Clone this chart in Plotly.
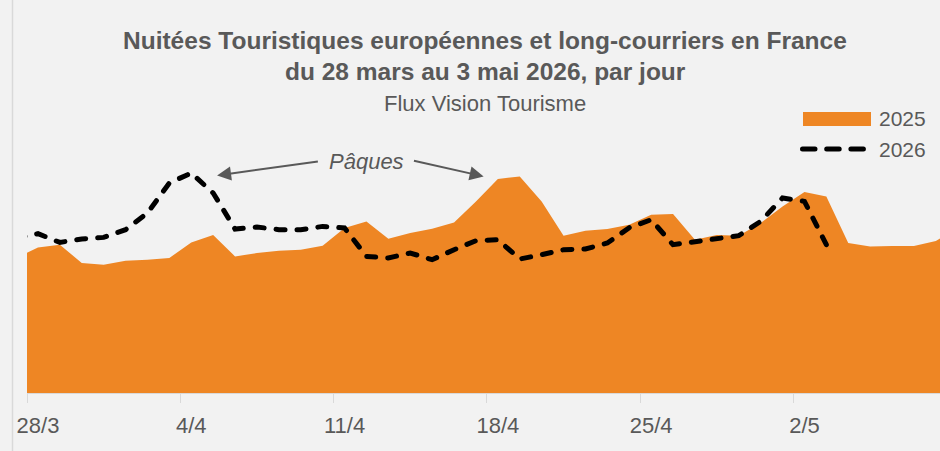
import pandas as pd
import plotly.graph_objects as go

# ---- data ----
start_date = "2026-03-27"
# 2025 nights (aligned on 2026 calendar), one value per day from 27/3
values_2025 = [1350, 1456, 1483, 1300, 1283, 1323, 1333, 1350, 1506, 1580,
               1366, 1400, 1423, 1433, 1473, 1650, 1716, 1543, 1600, 1643,
               1706, 1916, 2140, 2166, 1916, 1573, 1623, 1640, 1683, 1783,
               1790, 1533, 1580, 1573, 1700, 1866, 2010, 1966, 1500, 1466,
               1470, 1470, 1520, 1650]
values_2026 = [1550, 1593, 1506, 1540, 1556, 1633, 1800, 2100, 2200, 2000,
               1640, 1660, 1633, 1633, 1666, 1650, 1366, 1350, 1400, 1333,
               1433, 1523, 1533, 1340, 1383, 1433, 1440, 1500, 1653, 1733,
               1483, 1516, 1540, 1573, 1716, 1950, 1916, 1483]
tick_dates = ["2026-03-28", "2026-04-04", "2026-04-11", "2026-04-18", "2026-04-25", "2026-05-02"]
tick_labels = ["28/3", "4/4", "11/4", "18/4", "25/4", "2/5"]
series_names = ["2025", "2026"]

dates_2025 = pd.date_range(start_date, periods=len(values_2025), freq="D")
dates_2026 = pd.date_range(start_date, periods=len(values_2026), freq="D")

ORANGE = "#EE8624"
GREY = "#595959"
BG = "#F2F2F2"
FONT = "Liberation Sans, Arial, sans-serif"

W, H = 940, 451
L, R, T, B = 27, 0, 100, 58


def px(xp):
    return (xp - L) / (W - L - R)


def py(yp):
    return (H - B - yp) / (H - T - B)


fig = go.Figure()
fig.add_trace(go.Scatter(x=dates_2025, y=values_2025, name=series_names[0],
                         mode="lines", fill="tozeroy", fillcolor=ORANGE,
                         line=dict(width=0, color=ORANGE), showlegend=False))
fig.add_trace(go.Scatter(x=dates_2026, y=values_2026, name=series_names[1],
                         mode="lines", line=dict(color="black", width=5, dash="9px,12px"),
                         showlegend=False))

half_day = pd.Timedelta(hours=12)
day = pd.Timedelta(days=1)
x0 = pd.Timestamp("2026-03-28") - half_day
x1 = x0 + day * ((W - L - R) / 21.9)

fig.update_xaxes(
    range=[x0, x1], type="date",
    tickvals=[pd.Timestamp(d) for d in tick_dates], ticktext=tick_labels,
    ticks="outside", ticklen=13, tickcolor="rgba(0,0,0,0)",
    tickfont=dict(family=FONT, size=22, color=GREY),
    showline=True, linecolor="#D9D9D9", linewidth=1,
    showgrid=False, zeroline=False, automargin=False,
    minor=dict(tickvals=[pd.Timestamp(d) - half_day for d in tick_dates],
               ticks="outside", ticklen=9, tickcolor="#D9D9D9", tickwidth=1, showgrid=False),
)
fig.update_yaxes(visible=False, range=[0, 2930], automargin=False)

annotations = []
title_lines = [
    ("<b>Nuitées Touristiques européennes et long-courriers en France</b>", 24.5, 41),
    ("<b>du 28 mars au 3 mai 2026, par jour</b>", 24.5, 72),
    ("Flux Vision Tourisme", 22, 103),
]
for txt, size, yc in title_lines:
    annotations.append(dict(text=txt, xref="paper", yref="paper", x=px(485), y=py(yc),
                            xanchor="center", yanchor="middle", showarrow=False,
                            font=dict(family=FONT, size=size, color=GREY)))

# legend texts
for txt, yc in [(series_names[0], 119), (series_names[1], 149)]:
    annotations.append(dict(text=txt, xref="paper", yref="paper", x=px(877), y=py(yc),
                            xanchor="left", yanchor="middle", showarrow=False,
                            font=dict(family=FONT, size=21, color=GREY)))

# Pâques label and arrows
d0 = pd.Timestamp("2026-03-28")
annotations.append(dict(text="<i>Pâques</i>", xref="paper", yref="paper", x=px(366), y=py(161),
                        xanchor="center", yanchor="middle", showarrow=False,
                        font=dict(family=FONT, size=22, color=GREY)))
for tip_d, tip_v, tail_d, tail_v in [(8.18, 2176, 12.85, 2316), (20.35, 2166, 17.1, 2326)]:
    annotations.append(dict(text="", x=d0 + day * tip_d, y=tip_v, xref="x", yref="y",
                            ax=d0 + day * tail_d, ay=tail_v, axref="x", ayref="y",
                            showarrow=True, arrowhead=2, arrowsize=1.4, arrowwidth=2,
                            arrowcolor=GREY))

shapes = [
    # legend swatches
    dict(type="rect", xref="paper", yref="paper", x0=px(803), x1=px(871), y0=py(126), y1=py(112),
         fillcolor=ORANGE, line=dict(width=0)),
    dict(type="line", xref="paper", yref="paper", x0=px(802.5), x1=px(864.5), y0=py(149), y1=py(149),
         line=dict(color="black", width=5, dash="12.5px,11.7px")),
    # chart frame left border
    dict(type="line", xref="paper", yref="paper", x0=px(12.5), x1=px(12.5), y0=py(H), y1=py(0),
         line=dict(color="#D9D9D9", width=1.5)),
]

fig.update_layout(
    width=W, height=H,
    margin=dict(l=L, r=R, t=T, b=B, pad=0),
    paper_bgcolor=BG, plot_bgcolor=BG,
    template="none",
    showlegend=False,
    annotations=annotations,
    shapes=shapes,
)

post = """
document.body.style.margin='0';
document.body.style.overflow='hidden';
var gd = document.getElementById('{plot_id}');
gd.querySelectorAll('.scatterlayer .js-line, .shapelayer path').forEach(function(p){
  var da = p.style.strokeDasharray || p.getAttribute('stroke-dasharray');
  if (da && da !== 'none') { p.style.strokeLinecap = 'round'; }
});
"""
fig.write_html("out.html", config={"displayModeBar": False}, post_script=post)
